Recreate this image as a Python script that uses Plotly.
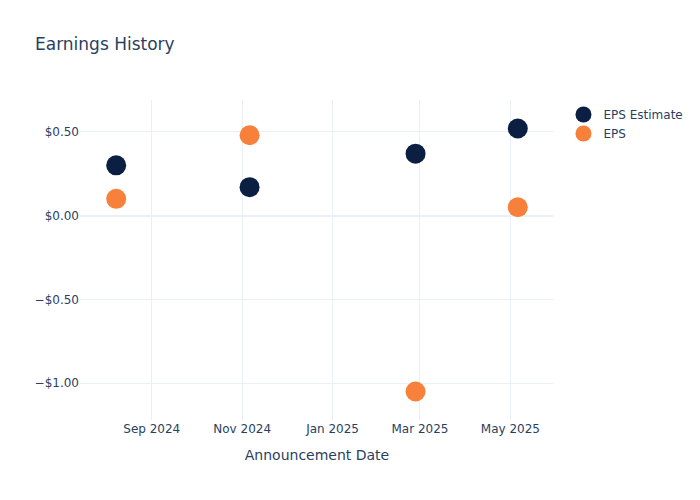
import plotly.graph_objects as go

dates = ["2024-08-08", "2024-11-06", "2025-02-26", "2025-05-06"]
eps_estimate = [0.30, 0.17, 0.37, 0.52]
eps_actual = [0.10, 0.48, -1.05, 0.05]

fig = go.Figure()
fig.add_trace(go.Scatter(x=dates, y=eps_estimate, mode="markers", name="EPS Estimate",
                         marker=dict(color="#0b1f42", size=20)))
fig.add_trace(go.Scatter(x=dates, y=eps_actual, mode="markers", name="EPS",
                         marker=dict(color="#f7813a", size=20)))
fig.update_layout(
    template="plotly_white",
    font=dict(family="DejaVu Sans"),
    title=dict(text="Earnings History"),
    xaxis=dict(title=dict(text="Announcement Date")),
    yaxis=dict(tickformat="$.2f"),
)
fig.write_html("out.html", config={"responsive": True, "displayModeBar": False},
               default_width="100%", default_height="100%")
with open("out.html") as f:
    html = f.read()
html = html.replace("<head>", "<head><style>html,body{margin:0;padding:0;width:100%;height:100%;}</style>", 1)
with open("out.html", "w") as f:
    f.write(html)
